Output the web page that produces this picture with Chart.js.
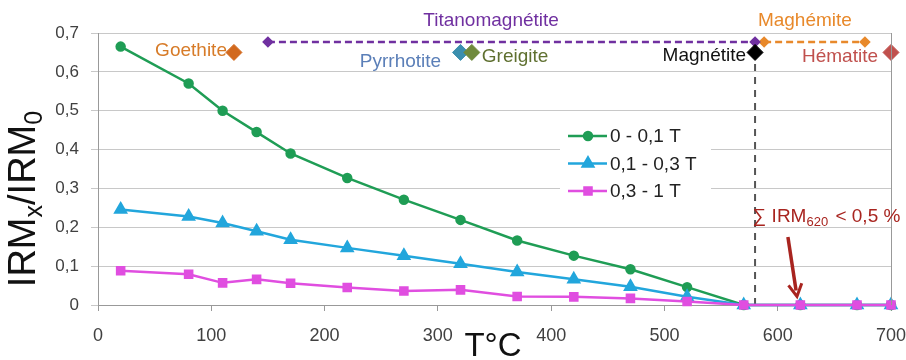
<!DOCTYPE html>
<html>
<head>
<meta charset="utf-8">
<script src="https://cdn.jsdelivr.net/npm/chart.js@4/dist/chart.umd.min.js"></script>
<style>
  html, body { margin: 0; padding: 0; background: #fff; }
  canvas { display: block; }
</style>
</head>
<body>
<canvas id="irmChart" width="906" height="360"></canvas>
<script>
// heating steps (°C) and remaining IRM fraction per coercivity window
const temperatures = [20, 80, 110, 140, 170, 220, 270, 320, 370, 420, 470, 520, 570, 620, 670, 700];
const irmLow = [0.665, 0.57, 0.5, 0.445, 0.39, 0.327, 0.271, 0.219, 0.166, 0.127, 0.092, 0.046, 0, 0, 0, 0];
const irmMid = [0.246, 0.228, 0.211, 0.19, 0.168, 0.147, 0.127, 0.106, 0.085, 0.066, 0.047, 0.021, 0, 0, 0, 0];
const irmHigh = [0.088, 0.079, 0.057, 0.066, 0.056, 0.045, 0.036, 0.039, 0.022, 0.021, 0.017, 0.009, 0, 0, 0, 0];
const seriesNames = ['0 - 0,1 T', '0,1 - 0,3 T', '0,3 - 1 T'];

const xTickLabels = ['0', '100', '200', '300', '400', '500', '600', '700'];
const yTickLabels = ['0', '0,1', '0,2', '0,3', '0,4', '0,5', '0,6', '0,7'];

// unblocking temperatures of minerals
const mineralNames = ['Goethite', 'Pyrrhotite', 'Greigite', 'Magnétite', 'Hématite'];
const mineralTemps = [120, 320, 330, 580, 700];
const mineralLevel = 0.65;
const rangeNames = ['Titanomagnétite', 'Maghémite'];
const rangeStart = [150, 588];
const rangeEnd = [580, 677];
const rangeLevel = 0.677;
const curieTemp = 580;
const arrowFrom = [609, 0.175];
const arrowTo = [617, 0.022];

const FONT = "'Liberation Sans', Arial, sans-serif";
const colors = {
  low: '#1f9d55',
  mid: '#22a6dc',
  high: '#e04ee0',
  minerals: ['#d2691e', '#3b8fae', '#6f8a3c', '#000000', '#c0504d'],
  ranges: ['#7030a0', '#e8892b'],
  mineralText: ['#d77b28', '#5b7fb8', '#5f7030', '#111111', '#c0504d'],
  note: '#a8241f'
};

const pts = (ys) => temperatures.map((t, i) => ({ x: t, y: ys[i] }));

const datasets = [
  {
    label: seriesNames[0], data: pts(irmLow), borderColor: colors.low, backgroundColor: colors.low,
    borderWidth: 2.5, pointStyle: 'circle', pointRadius: 4, order: 3, clip: false
  },
  {
    label: seriesNames[1], data: pts(irmMid), borderColor: colors.mid, backgroundColor: colors.mid,
    borderWidth: 2.5, pointStyle: 'triangle', pointRadius: 6, order: 2, clip: false
  },
  {
    label: seriesNames[2], data: pts(irmHigh), borderColor: colors.high, backgroundColor: colors.high,
    borderWidth: 2.5, pointStyle: 'rect', pointRadius: 5, order: 1, clip: false
  },
  {
    label: 'curie', data: [{ x: curieTemp, y: 0 }, { x: curieTemp, y: mineralLevel }],
    borderColor: '#555', borderWidth: 2, borderDash: [7, 6], pointRadius: 0, order: 5
  },
  ...rangeNames.map((n, i) => ({
    label: n, data: [{ x: rangeStart[i], y: rangeLevel }, { x: rangeEnd[i], y: rangeLevel }],
    borderColor: colors.ranges[i], backgroundColor: colors.ranges[i], borderWidth: 2.5,
    borderDash: [7, 4], pointStyle: 'rectRot', pointRadius: 4, order: 4, clip: false
  })),
  {
    label: 'minerals', data: mineralTemps.map(t => ({ x: t, y: mineralLevel })), showLine: false,
    pointStyle: 'rectRot', pointRadius: 8, pointBackgroundColor: colors.minerals,
    pointBorderColor: colors.minerals, order: 0, clip: false
  }
];

const extras = {
  id: 'extras',
  afterDatasetsDraw(chart) {
    const { ctx, chartArea, scales: { x, y } } = chart;
    ctx.save();
    // right border of plot
    ctx.strokeStyle = '#999';
    ctx.lineWidth = 1;
    ctx.beginPath();
    ctx.moveTo(chartArea.right + 0.5, chartArea.top);
    ctx.lineTo(chartArea.right + 0.5, chartArea.bottom);
    ctx.stroke();

    // mineral labels
    ctx.font = '19px ' + FONT;
    ctx.textBaseline = 'middle';
    const my = y.getPixelForValue(mineralLevel);
    const offsets = [[-7, -2, 'right'], [-60, 9, 'center'], [10, 4, 'left'], [-9, 3, 'right'], [-13, 4, 'right']];
    mineralNames.forEach((n, i) => {
      ctx.fillStyle = colors.mineralText[i];
      ctx.textAlign = offsets[i][2];
      ctx.fillText(n, x.getPixelForValue(mineralTemps[i]) + offsets[i][0], my + offsets[i][1]);
    });
    // range labels above plot
    const rangeLabelX = [347, 624];
    rangeNames.forEach((n, i) => {
      ctx.fillStyle = colors.ranges[i];
      ctx.textAlign = 'center';
      ctx.fillText(n, x.getPixelForValue(rangeLabelX[i]), 21);
    });

    // legend
    const lx = 560, ly = 122;
    ctx.fillStyle = '#fff';
    ctx.fillRect(lx, ly, 151, 81);
    [0, 1, 2].forEach(i => {
      const ds = chart.data.datasets[i];
      const cy = 136 + i * 27.5;
      ctx.strokeStyle = ds.borderColor;
      ctx.lineWidth = 2.5;
      ctx.beginPath();
      ctx.moveTo(568, cy);
      ctx.lineTo(607, cy);
      ctx.stroke();
      Chart.helpers.drawPoint(ctx, {
        pointStyle: ds.pointStyle, radius: ds.pointRadius, borderWidth: 1, rotation: 0
      }, 588, cy);
      ctx.fillStyle = ds.backgroundColor;
      ctx.fill();
      ctx.fillStyle = '#222';
      ctx.textAlign = 'left';
      ctx.font = '19px ' + FONT;
      ctx.fillText(ds.label, 610, cy + 1);
    });

    // note and arrow
    ctx.fillStyle = colors.note;
    ctx.textAlign = 'left';
    ctx.font = '19px ' + FONT;
    let tx = x.getPixelForValue(578);
    const ty = y.getPixelForValue(0.228);
    ctx.fillText('∑ IRM', tx, ty);
    tx += ctx.measureText('∑ IRM').width;
    ctx.font = '13px ' + FONT;
    ctx.fillText('620', tx, ty + 6);
    tx += ctx.measureText('620').width + 2;
    ctx.font = '19px ' + FONT;
    ctx.fillText(' < 0,5 %', tx, ty);

    const ax0 = x.getPixelForValue(arrowFrom[0]), ay0 = y.getPixelForValue(arrowFrom[1]);
    const ax1 = x.getPixelForValue(arrowTo[0]), ay1 = y.getPixelForValue(arrowTo[1]);
    const ang = Math.atan2(ay1 - ay0, ax1 - ax0);
    ctx.strokeStyle = colors.note;
    ctx.lineWidth = 3.5;
    ctx.beginPath();
    ctx.moveTo(ax0, ay0);
    ctx.lineTo(ax1 - 6 * Math.cos(ang), ay1 - 6 * Math.sin(ang));
    ctx.stroke();
    ctx.lineWidth = 3;
    ctx.lineJoin = 'miter';
    ctx.beginPath();
    ctx.moveTo(ax1 - 14 * Math.cos(ang - 0.5), ay1 - 14 * Math.sin(ang - 0.5));
    ctx.lineTo(ax1, ay1);
    ctx.lineTo(ax1 - 14 * Math.cos(ang + 0.5), ay1 - 14 * Math.sin(ang + 0.5));
    ctx.stroke();

    // axis titles
    ctx.fillStyle = '#111';
    ctx.font = '33px ' + FONT;
    ctx.textAlign = 'center';
    ctx.fillText('T°C', 493, 347);

    ctx.translate(25, 199);
    ctx.rotate(-Math.PI / 2);
    const big = '38px ' + FONT, small = '25px ' + FONT;
    const parts = [['IRM', big, 0], ['x', small, 10], ['/IRM', big, 0], ['0', small, 10]];
    let total = 0;
    parts.forEach(p => { ctx.font = p[1]; total += ctx.measureText(p[0]).width; });
    let px = -total / 2;
    ctx.textAlign = 'left';
    parts.forEach(p => {
      ctx.font = p[1];
      ctx.fillText(p[0], px, p[2]);
      px += ctx.measureText(p[0]).width;
    });
    ctx.restore();
  }
};

new Chart(document.getElementById('irmChart').getContext('2d'), {
  type: 'line',
  data: { datasets },
  options: {
    responsive: false,
    animation: false,
    layout: { padding: { top: 33, right: 15, left: 0, bottom: 0 } },
    plugins: { legend: { display: false }, tooltip: { enabled: false } },
    scales: {
      x: {
        type: 'linear', min: 0, max: 700,
        afterFit: (s) => { s.height = 55; s.paddingLeft = 0; s.paddingRight = 0; },
        grid: { drawOnChartArea: false, drawTicks: true, tickLength: 6, color: '#999' },
        border: { color: '#999' },
        ticks: {
          stepSize: 100, padding: 14, color: '#404040', font: { size: 18, family: FONT },
          callback: (v) => xTickLabels[Math.round(v / 100)]
        }
      },
      y: {
        min: 0, max: 0.7,
        afterFit: (s) => { s.width = 98; s.paddingTop = 0; s.paddingBottom = 0; },
        grid: { color: '#c8c8c8', tickLength: 7 },
        border: { color: '#999' },
        ticks: {
          stepSize: 0.1, padding: 12, color: '#404040', font: { size: 17, family: FONT },
          callback: (v) => yTickLabels[Math.round(v * 10)]
        }
      }
    }
  },
  plugins: [extras]
});
</script>
</body>
</html>
